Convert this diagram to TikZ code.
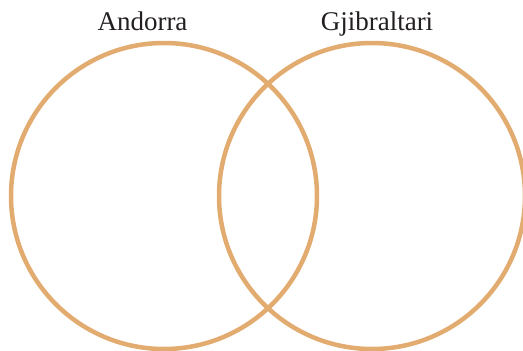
\documentclass[tikz,border=0pt]{standalone}
\usepackage{fontspec}
\setmainfont{Liberation Serif}
\definecolor{ring}{RGB}{226,172,112}
\definecolor{txt}{RGB}{35,31,32}
\begin{document}
\begin{tikzpicture}[x=1pt,y=-1pt,
  ringline/.style={draw=ring,line width=4.5pt},
  label/.style={text=txt,anchor=base,inner sep=0pt,font=\fontsize{27}{32}\selectfont}]
\useasboundingbox (0,0) rectangle (523,351);
\begin{scope}
\clip (0,0) rectangle (523,351);
\draw[ringline] (164,196) circle[radius=153];
\draw[ringline] (372,196) circle[radius=153];
\end{scope}
\node[label] (andorra) at (142.5,30) {Andorra};
\node[label] (gjib) at (377,30) {Gjibraltari};
\end{tikzpicture}
\end{document}
